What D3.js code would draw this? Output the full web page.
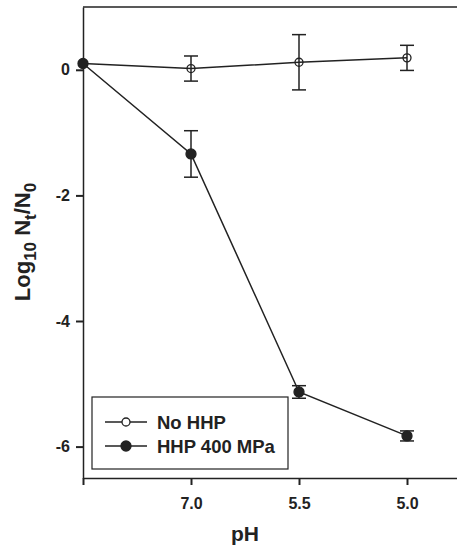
<!DOCTYPE html>
<html>
<head>
<meta charset="utf-8">
<script src="https://cdn.jsdelivr.net/npm/d3@7"></script>
<style>
  body { margin: 0; background: #fff; }
  text { font-family: "Liberation Sans", Arial, sans-serif; font-weight: bold; fill: #222; }
</style>
</head>
<body>
<div id="chart"></div>
<script>
// data
const phLabels = ["", "7.0", "5.5", "5.0"];
const noHHP = [0.10, 0.02, 0.12, 0.19];
const noHHPErr = [0, 0.20, 0.44, 0.20];
const hhp400 = [0.10, -1.34, -5.13, -5.83];
const hhp400Err = [0, 0.37, 0.10, 0.08];
const yTicks = [0, -2, -4, -6];

const W = 457, H = 546;
const margin = { top: 7, right: -4, bottom: 68, left: 83 };

const svg = d3.select("#chart").append("svg")
    .attr("width", W)
    .attr("height", H);

const x = d3.scaleLinear()
    .domain([0, 3.5])
    .range([margin.left, W - margin.right]);

const y = d3.scaleLinear()
    .domain([-6.5, 1])
    .range([H - margin.bottom, margin.top]);

const ink = "#222";

// frame top line
svg.append("line")
    .attr("x1", x(0)).attr("x2", x(3.5))
    .attr("y1", y(1)).attr("y2", y(1))
    .attr("stroke", ink).attr("stroke-width", 1.5);

// axes
const xAxis = d3.axisBottom(x)
    .tickValues(d3.range(phLabels.length))
    .tickFormat(i => phLabels[i])
    .tickSize(7)
    .tickPadding(13)
    .tickSizeOuter(0);

const yAxis = d3.axisLeft(y)
    .tickValues(yTicks)
    .tickFormat(d => d === 0 ? "0" : "-" + Math.abs(d))
    .tickSize(7)
    .tickPadding(6)
    .tickSizeOuter(0);

const gx = svg.append("g")
    .attr("transform", "translate(0," + y(-6.5) + ")")
    .call(xAxis);
const gy = svg.append("g")
    .attr("transform", "translate(" + x(0) + ",0)")
    .call(yAxis);

[gx, gy].forEach(g => {
    g.select(".domain").attr("stroke", ink).attr("stroke-width", 1.5);
    g.selectAll(".tick line").attr("stroke", ink).attr("stroke-width", 2);
    g.selectAll(".tick text").attr("font-size", 16).attr("fill", ink)
        .attr("font-family", "'Liberation Sans', Arial, sans-serif").attr("font-weight", "bold");
});

// axis titles
svg.append("text")
    .attr("x", x(1.5))
    .attr("y", 541)
    .attr("text-anchor", "middle")
    .attr("font-size", 21)
    .text("pH");

const yl = svg.append("text")
    .attr("transform", "translate(30,242) rotate(-90)")
    .attr("text-anchor", "middle")
    .attr("font-size", 22);
yl.append("tspan").text("Log");
yl.append("tspan").attr("dy", 6).attr("font-size", 17).text("10");
yl.append("tspan").attr("dy", -6).text(" N");
yl.append("tspan").attr("dy", 6).attr("font-size", 17).text("t");
yl.append("tspan").attr("dy", -6).text("/N");
yl.append("tspan").attr("dy", 6).attr("font-size", 17).text("0");

// series
const series = [
    { name: "No HHP", vals: noHHP, err: noHHPErr, filled: false },
    { name: "HHP 400 MPa", vals: hhp400, err: hhp400Err, filled: true }
];

const line = d3.line()
    .x((d, i) => x(i))
    .y(d => y(d));

series.forEach(s => {
    svg.append("path")
        .datum(s.vals)
        .attr("d", line)
        .attr("fill", "none")
        .attr("stroke", ink)
        .attr("stroke-width", 1.5);

    const eb = svg.append("g");
    s.vals.forEach((v, i) => {
        if (!s.err[i]) return;
        const cx = x(i);
        eb.append("line")
            .attr("x1", cx).attr("x2", cx)
            .attr("y1", y(v - s.err[i])).attr("y2", y(v + s.err[i]))
            .attr("stroke", ink).attr("stroke-width", 1.5);
        [v - s.err[i], v + s.err[i]].forEach(e => {
            eb.append("line")
                .attr("x1", cx - 7).attr("x2", cx + 7)
                .attr("y1", y(e)).attr("y2", y(e))
                .attr("stroke", ink).attr("stroke-width", 1.5);
        });
    });

    svg.append("g")
        .selectAll("circle")
        .data(s.vals)
        .join("circle")
        .attr("cx", (d, i) => x(i))
        .attr("cy", d => y(d))
        .attr("r", s.filled ? 5 : 4)
        .attr("fill", s.filled ? ink : "none")
        .attr("stroke", ink)
        .attr("stroke-width", 1.3);
});

// legend
const lg = svg.append("g").attr("transform", "translate(92,397)");
lg.append("rect")
    .attr("width", 196).attr("height", 72)
    .attr("fill", "#fff").attr("stroke", ink).attr("stroke-width", 1.2);
series.forEach((s, i) => {
    const ly = 25 + i * 24;
    lg.append("line")
        .attr("x1", 13).attr("x2", 55)
        .attr("y1", ly).attr("y2", ly)
        .attr("stroke", ink).attr("stroke-width", 1.5);
    lg.append("circle")
        .attr("cx", 34).attr("cy", ly)
        .attr("r", s.filled ? 5 : 4)
        .attr("fill", s.filled ? ink : "#fff")
        .attr("stroke", ink).attr("stroke-width", 1.3);
    lg.append("text")
        .attr("x", 65).attr("y", ly + 6.5)
        .attr("font-size", 18.5)
        .text(s.name);
});
</script>
</body>
</html>
